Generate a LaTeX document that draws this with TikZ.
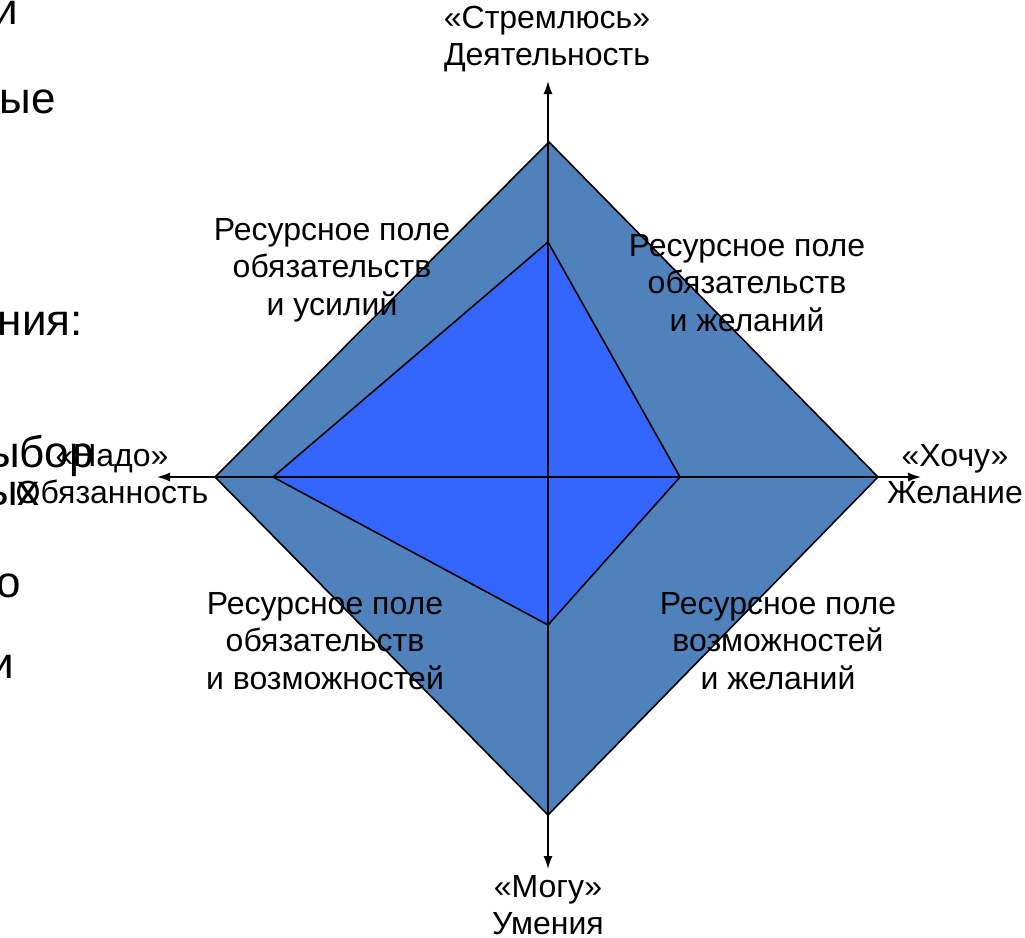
\documentclass[tikz,border=0pt]{standalone}
\usepackage{fontspec}
\setmainfont{Liberation Sans}
\usetikzlibrary{arrows.meta}
\definecolor{outerblue}{RGB}{79,129,189}
\definecolor{innerblue}{RGB}{51,102,255}
\tikzset{
  field/.style={draw=black, line width=1.6pt, line join=miter},
  axis/.style={draw=black, line width=1.6pt, {Latex[length=13pt,width=9pt]}-{Latex[length=13pt,width=9pt]}},
  lbl/.style={align=center, inner sep=0pt, font=\fontsize{32}{37.5}\selectfont},
  bigtxt/.style={inner sep=0pt, font=\fontsize{44}{50}\selectfont, anchor=base east}
}
\begin{document}
\begin{tikzpicture}[x=1pt,y=-1pt]
\useasboundingbox (0,0) rectangle (1025,937);
\clip (0,0) rectangle (1025,937);
% background slide text, cut at the left edge
\node[bigtxt] (b1) at (18,24) {и};
\node[bigtxt] (b2) at (56,113) {ые};
\node[bigtxt] (b3) at (83,335) {ния:};
\node[bigtxt] (b4) at (94,467) {ыбор};
\node[bigtxt] (b5) at (40,505) {ых};
\node[bigtxt] (b6) at (21,597) {о};
\node[bigtxt] (b7) at (14,678) {и};
% corner coordinates
\coordinate (oT) at (549,142);
\coordinate (oR) at (878,477);
\coordinate (oB) at (548,815);
\coordinate (oL) at (215,477);
\coordinate (iT) at (548,242);
\coordinate (iR) at (680,477);
\coordinate (iB) at (548,625);
\coordinate (iL) at (273,477);
\coordinate (aU) at (548,81);
\coordinate (aD) at (548,869);
\coordinate (aL) at (157,477);
\coordinate (aR) at (921,477);
% fields
\path[field, fill=outerblue] (oT) -- (oR) -- (oB) -- (oL) -- cycle;
\path[field, fill=innerblue] (iT) -- (iR) -- (iB) -- (iL) -- cycle;
% axes
\draw[axis] (aD) -- (aU);
\draw[axis] (aL) -- (aR);
% field labels
\node[lbl] (f1) at (332,270) {Ресурсное поле\\обязательств\\и усилий};
\node[lbl] (f2) at (747,283) {Ресурсное поле\\обязательств\\и желаний};
\node[lbl] (f3) at (325,641) {Ресурсное поле\\обязательств\\и возможностей};
\node[lbl] (f4) at (778,641) {Ресурсное поле\\возможностей\\и желаний};
% axis labels
\node[lbl] (tU) at (547,39) {«Стремлюсь»\\Деятельность};
\node[lbl] (tR) at (955,474) {«Хочу»\\Желание};
\node[lbl] (tL) at (112,474) {«Надо»\\Обязанность};
\node[lbl] (tD) at (548,905) {«Могу»\\Умения};
\end{tikzpicture}
\end{document}
